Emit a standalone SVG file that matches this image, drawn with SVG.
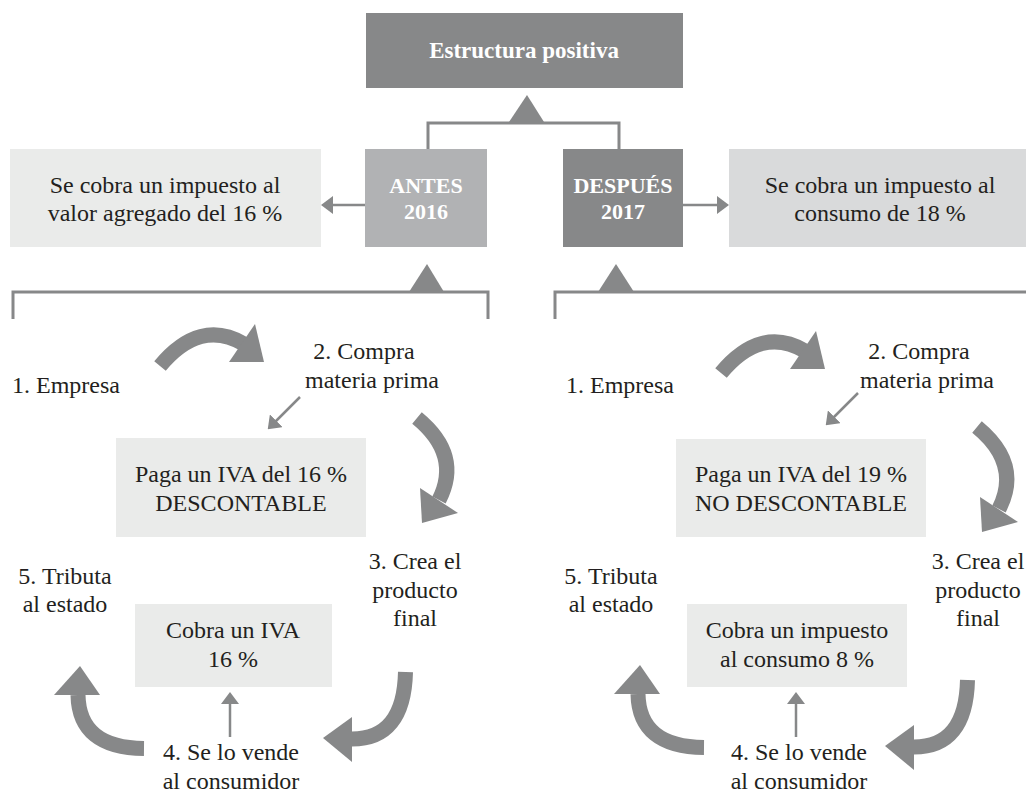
<svg xmlns="http://www.w3.org/2000/svg" width="1026" height="794" viewBox="0 0 1026 794">
<style>
  .t{font-family:"Liberation Serif","Times New Roman",serif;font-size:24px;fill:#231f20;text-anchor:middle}
  .b{font-family:"Liberation Serif","Times New Roman",serif;font-size:22px;font-weight:bold;fill:#ffffff;text-anchor:middle}
  .light{fill:#eaebea}
  .ln{fill:none;stroke:#878889;stroke-width:3}
  .thin{fill:none;stroke:#878889;stroke-width:2.5}
  .thick{fill:none;stroke:#878889;stroke-width:15}
  .head{fill:#878889}
</style>
<defs>
  <marker id="ah" viewBox="0 0 12 18" refX="6" refY="9" markerWidth="12" markerHeight="18" markerUnits="userSpaceOnUse" orient="auto">
    <path d="M0,0 L12,9 L0,18 z" fill="#878889"/>
  </marker>
  <g id="cyc1">
    <path class="thick" d="M160,366 Q200,318 244,344"/>
    <polygon class="head" points="255,324 229,362 264,362"/>
  </g>
  <g id="cyc2">
    <path class="thick" d="M417,418 Q462,455 439,500"/>
    <polygon class="head" points="420,488 458,513 422,523"/>
  </g>
  <g id="cyc3">
    <path class="thick" d="M405.5,672 Q404,739 352,739"/>
    <polygon class="head" points="352,717 323,738 352,762"/>
  </g>
  <g id="cyc4">
    <path class="thick" d="M144,748.5 Q79,748 78,695"/>
    <polygon class="head" points="54,695 80,666 100,695"/>
  </g>
</defs>

<!-- connectors -->
<g id="connectors">
  <polygon class="head" points="509,122 527,95 544,122"/>
  <polyline class="ln" points="428,149 428,123 619,123 619,149"/>
  <line class="thin" x1="365" y1="205" x2="327" y2="205" marker-end="url(#ah)"/>
  <line class="thin" x1="683" y1="205" x2="723" y2="205" marker-end="url(#ah)"/>
  <polygon class="head" points="409,292 427,264 444,292"/>
  <polygon class="head" points="598,292 616,264 634,292"/>
  <polyline class="ln" points="13,319 13,292 488,292 488,319"/>
  <polyline class="ln" points="555,319 555,292 1026,292"/>
  <!-- left cycle -->
  <use href="#cyc1"/>
  <use href="#cyc2"/>
  <use href="#cyc3"/>
  <use href="#cyc4"/>
  <line class="thin" x1="300" y1="397" x2="272" y2="425" marker-end="url(#ah)"/>
  <line class="thin" x1="230" y1="737" x2="230" y2="698" marker-end="url(#ah)"/>
  <!-- right cycle -->
  <use href="#cyc1" transform="translate(561,7)"/>
  <use href="#cyc2" transform="translate(560,9)"/>
  <use href="#cyc3" transform="translate(562,8)"/>
  <use href="#cyc4" transform="translate(560,-1)"/>
  <line class="thin" x1="858" y1="393" x2="830" y2="421" marker-end="url(#ah)"/>
  <line class="thin" x1="796" y1="737" x2="796" y2="698" marker-end="url(#ah)"/>
</g>

<g id="top">
  <rect x="366" y="13" width="317" height="75" fill="#878889"/>
  <text class="b" x="524" y="58" style="font-size:23px">Estructura positiva</text>
</g>
<g id="antes">
  <rect x="365" y="149" width="122" height="98" fill="#b1b2b4"/>
  <text class="b" x="426" y="193">ANTES</text>
  <text class="b" x="426" y="219">2016</text>
</g>
<g id="despues">
  <rect x="563" y="149" width="120" height="98" fill="#878889"/>
  <text class="b" x="623" y="193">DESPUÉS</text>
  <text class="b" x="623" y="219">2017</text>
</g>
<g id="iva-antes">
  <rect class="light" x="10" y="149" width="311" height="98"/>
  <text class="t" x="165" y="193">Se cobra un impuesto al</text>
  <text class="t" x="165" y="221">valor agregado del 16 %</text>
</g>
<g id="iva-despues">
  <rect x="729" y="149" width="297" height="98" fill="#d9dadb"/>
  <text class="t" x="880" y="193">Se cobra un impuesto al</text>
  <text class="t" x="880" y="221">consumo de 18 %</text>
</g>

<!-- left cycle nodes -->
<g id="l-empresa"><text class="t" x="66" y="393">1. Empresa</text></g>
<g id="l-compra">
  <text class="t" x="364" y="359">2. Compra</text>
  <text class="t" x="372" y="388">materia prima</text>
</g>
<g id="l-paga">
  <rect class="light" x="116" y="438" width="250" height="99"/>
  <text class="t" x="241" y="482">Paga un IVA del 16 %</text>
  <text class="t" x="241" y="511">DESCONTABLE</text>
</g>
<g id="l-crea">
  <text class="t" x="415" y="569">3. Crea el</text>
  <text class="t" x="415" y="598">producto</text>
  <text class="t" x="415" y="626">final</text>
</g>
<g id="l-tributa">
  <text class="t" x="65" y="584">5. Tributa</text>
  <text class="t" x="65" y="612">al estado</text>
</g>
<g id="l-cobra">
  <rect class="light" x="135" y="604" width="197" height="83"/>
  <text class="t" x="233" y="638">Cobra un IVA</text>
  <text class="t" x="233" y="667">16 %</text>
</g>
<g id="l-vende">
  <text class="t" x="231" y="760">4. Se lo vende</text>
  <text class="t" x="231" y="789">al consumidor</text>
</g>

<!-- right cycle nodes -->
<g id="r-empresa"><text class="t" x="620" y="393">1. Empresa</text></g>
<g id="r-compra">
  <text class="t" x="919" y="359">2. Compra</text>
  <text class="t" x="927" y="388">materia prima</text>
</g>
<g id="r-paga">
  <rect class="light" x="676" y="439" width="250" height="98"/>
  <text class="t" x="801" y="482">Paga un IVA del 19 %</text>
  <text class="t" x="801" y="511">NO DESCONTABLE</text>
</g>
<g id="r-crea">
  <text class="t" x="978" y="569">3. Crea el</text>
  <text class="t" x="978" y="598">producto</text>
  <text class="t" x="978" y="626">final</text>
</g>
<g id="r-tributa">
  <text class="t" x="611" y="584">5. Tributa</text>
  <text class="t" x="611" y="612">al estado</text>
</g>
<g id="r-cobra">
  <rect class="light" x="687" y="604" width="220" height="83"/>
  <text class="t" x="797" y="638">Cobra un impuesto</text>
  <text class="t" x="797" y="667">al consumo 8 %</text>
</g>
<g id="r-vende">
  <text class="t" x="799" y="760">4. Se lo vende</text>
  <text class="t" x="799" y="789">al consumidor</text>
</g>
</svg>
